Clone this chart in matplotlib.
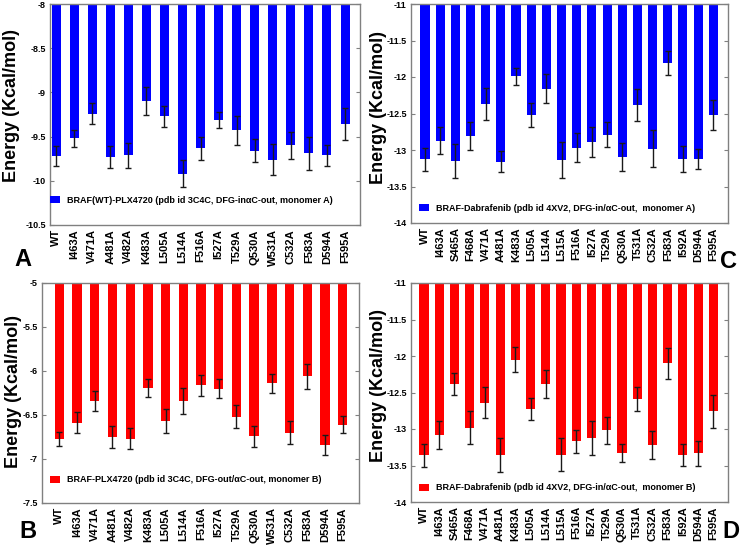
import numpy as np
import matplotlib
matplotlib.use('Agg')
import matplotlib.pyplot as plt

plt.rcParams['font.family'] = ['Liberation Sans', 'DejaVu Sans']
plt.rcParams['font.weight'] = 'bold'

# Datos
labels_ab = ['WT', 'I463A', 'V471A', 'A481A', 'V482A', 'K483A', 'L505A', 'L514A',
             'F516A', 'I527A', 'T529A', 'Q530A', 'W531A', 'C532A', 'F583A', 'D594A', 'F595A']
energy_a = [-9.72, -9.52, -9.24, -9.73, -9.71, -9.10, -9.27, -9.92, -9.63, -9.31,
            -9.43, -9.66, -9.76, -9.60, -9.69, -9.71, -9.36]
err_a = [0.11, 0.10, 0.12, 0.12, 0.14, 0.16, 0.12, 0.15, 0.13, 0.09,
         0.16, 0.13, 0.18, 0.15, 0.19, 0.12, 0.18]

energy_b = [-6.77, -6.59, -6.34, -6.75, -6.77, -6.19, -6.57, -6.34, -6.16, -6.20,
            -6.52, -6.74, -6.14, -6.70, -6.06, -6.84, -6.61]
err_b = [0.08, 0.12, 0.11, 0.13, 0.12, 0.10, 0.14, 0.15, 0.12, 0.11,
         0.13, 0.12, 0.11, 0.13, 0.14, 0.11, 0.10]

labels_cd = ['WT', 'I463A', 'S465A', 'F468A', 'V471A', 'A481A', 'K483A', 'L505A', 'L514A',
             'L515A', 'F516A', 'I527A', 'T529A', 'Q530A', 'T531A', 'C532A', 'F583A',
             'I592A', 'D594A', 'F595A']
energy_c = [-13.13, -12.87, -13.15, -12.81, -12.37, -13.16, -11.99, -12.52, -12.16, -13.14,
            -12.97, -12.89, -12.79, -13.10, -12.38, -12.98, -11.81, -13.12, -13.12, -12.52]
err_c = [0.16, 0.18, 0.23, 0.19, 0.22, 0.14, 0.12, 0.17, 0.20, 0.25,
         0.20, 0.21, 0.17, 0.19, 0.22, 0.25, 0.16, 0.18, 0.14, 0.20]

energy_d = [-13.36, -13.08, -12.38, -12.98, -12.64, -13.36, -12.05, -12.73, -12.38, -13.35,
            -13.17, -13.12, -13.02, -13.33, -12.59, -13.22, -12.10, -13.35, -13.33, -12.76]
err_d = [0.16, 0.19, 0.15, 0.22, 0.21, 0.23, 0.17, 0.15, 0.19, 0.23,
         0.16, 0.23, 0.18, 0.12, 0.16, 0.19, 0.21, 0.15, 0.17, 0.23]

W, H = 741, 547
fig = plt.figure(figsize=(W / 100, H / 100), dpi=100)


def panel(box, labels, vals, errs, ylim, yticks, ytl, color, leg, xlim, width,
          leg_xy, lab_x, lab_y):
    l, t, r, b = box
    ax = fig.add_axes([l / W, (H - b) / H, (r - l) / W, (b - t) / H])
    x = np.arange(1, len(labels) + 1)
    top = ylim[1]
    ax.bar(x, np.array(vals) - top, bottom=top, width=width, color=color,
           label=leg, zorder=2)
    ax.errorbar(x, vals, yerr=errs, fmt='none', ecolor='#1a1a1a', elinewidth=1,
                capsize=2.5, capthick=1, zorder=3)
    ax.set_ylim(ylim)
    ax.set_xlim(xlim)
    ax.set_yticks(yticks)
    ax.set_yticklabels(ytl, fontsize=6.5, fontweight='bold')
    ax.set_xticks(x)
    ax.set_xticklabels(labels, rotation=90, fontsize=8, fontweight='bold')
    ax.tick_params(axis='x', length=0, pad=3)
    ax.tick_params(axis='y', direction='in', length=3, pad=3, color='#808080',
                   right=True, labelright=False)
    for s in ax.spines.values():
        s.set_color('#808080')
        s.set_linewidth(1)
    ax.set_ylabel('Energy (Kcal/mol)', fontsize=13, fontweight='bold')
    ax.yaxis.set_label_coords((lab_x - l) / (r - l), (b - lab_y) / (b - t))
    ax.legend(loc='center left', bbox_to_anchor=leg_xy, frameon=False,
              borderpad=0, borderaxespad=0, handlelength=1.1, handleheight=0.75,
              handletextpad=0.8, prop={'size': 6.5, 'weight': 'bold'})
    return ax


panel((50, 4, 360, 225), labels_ab, energy_a, err_a, (-10.5, -8),
      [-10.5, -10, -9.5, -9, -8.5, -8], ['-10.5', '-10', '-9.5', '-9', '-8.5', '-8'],
      '#0000ff', 'BRAF(WT)-PLX4720 (pdb id 3C4C, DFG-in\u03b1C-out, monomer A)',
      (0.66, 17.83), 0.5, (0.0, 0.113), 20, 106)

panel((411, 4, 728, 223), labels_cd, energy_c, err_c, (-14, -11),
      [-14, -13.5, -13, -12.5, -12, -11.5, -11],
      ['-14', '-13.5', '-13', '-12.5', '-12', '-11.5', '-11'],
      '#0000ff', 'BRAF-Dabrafenib (pdb id 4XV2, DFG-in/\u03b1C-out,  monomer A)',
      (0.08, 20.97), 0.6, (0.025, 0.068), 387, 107)

panel((42, 283, 359, 503), labels_ab, energy_b, err_b, (-7.5, -5),
      [-7.5, -7, -6.5, -6, -5.5, -5], ['-7.5', '-7', '-6.5', '-6', '-5.5', '-5'],
      '#ff0000', 'BRAF-PLX4720 (pdb id 3C4C, DFG-out/\u03b1C-out, monomer B)',
      (0.02, 17.92), 0.53, (0.025, 0.105), 22, 391)

panel((411, 283, 728, 502), labels_cd, energy_d, err_d, (-14, -11),
      [-14, -13.5, -13, -12.5, -12, -11.5, -11],
      ['-14', '-13.5', '-13', '-12.5', '-12', '-11.5', '-11'],
      '#ff0000', 'BRAF-Dabrafenib (pdb id 4XV2, DFG-in/\u03b1C-out,  monomer B)',
      (0.15, 20.96), 0.6, (0.025, 0.064), 387, 386)

# Letras de los paneles
for txt, px, py, ha in [('A', 14, 260, 'left'), ('C', 737, 262, 'right'),
                        ('B', 19, 531, 'left'), ('D', 740, 531, 'right')]:
    fig.text(px / W, (H - py) / H, txt, fontsize=17, fontweight='bold',
             ha=ha, va='center')

fig.savefig('out.png', dpi=100)
